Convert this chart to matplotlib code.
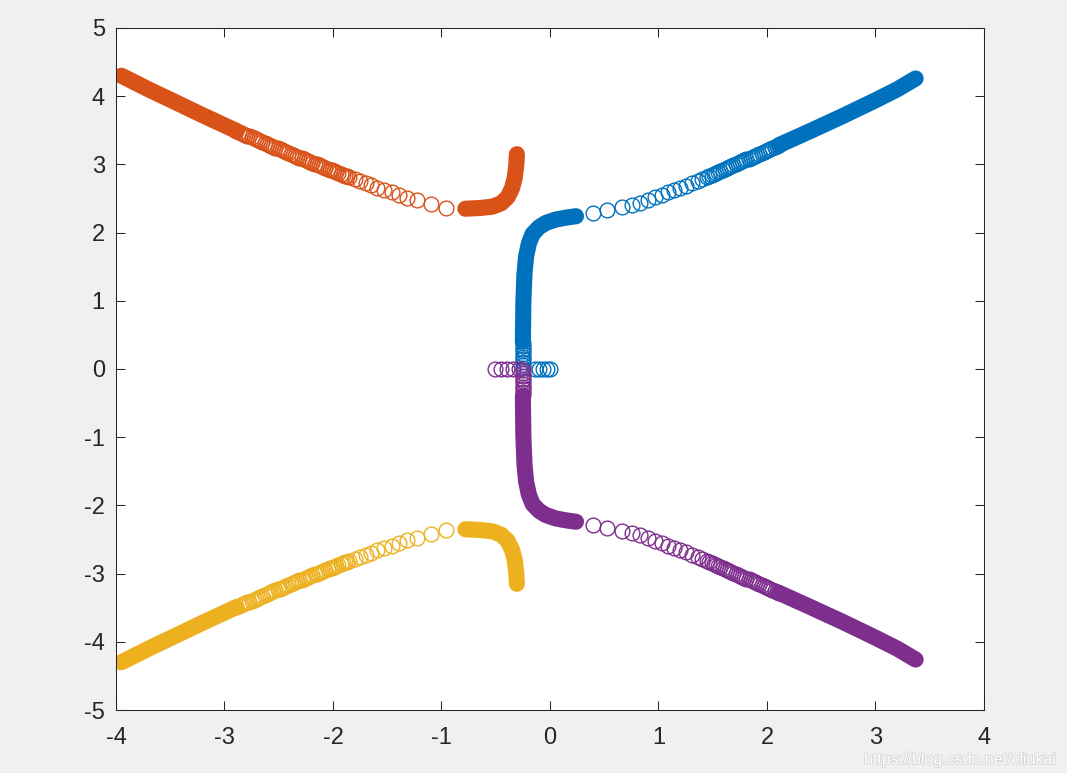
import matplotlib.pyplot as plt
import matplotlib.patheffects as pe

# 四个根轨迹分支 (颜色顺序同 MATLAB 默认)
blue_c = '#0072BD'
orange_c = '#D95319'
yellow_c = '#EDB120'
purple_c = '#7E2F8E'

# ---- 蓝色分支 ----
blue_axis_x = [0.0, -0.03, -0.065, -0.10, -0.135]
blue_axis_y = [0, 0, 0, 0, 0]
blue_split_x = [-0.25, -0.25, -0.25, -0.25, -0.25, -0.25, -0.25, -0.25, -0.25, -0.25]
blue_split_y = [0.02, 0.06, 0.10, 0.14, 0.18, 0.22, 0.26, 0.30, 0.34, 0.38]
blue_stem_x = [-0.25, -0.245, -0.235, -0.22, -0.195, -0.16, -0.10, -0.04, 0.05, 0.15, 0.24]
blue_stem_y = [0.40, 1.00, 1.40, 1.65, 1.84, 1.98, 2.08, 2.14, 2.19, 2.22, 2.24]
blue_tail_x = [0.40, 0.53, 0.66, 0.76, 0.83, 0.90, 0.97, 1.03, 1.09, 1.14, 1.20, 1.25,
               1.31, 1.36, 1.40, 1.45,
               1.47, 1.49, 1.51, 1.53, 1.55, 1.57, 1.59, 1.61, 1.63, 1.65, 1.67,
               1.69, 1.71, 1.73, 1.75, 1.77, 1.79, 1.81, 1.83, 1.85, 1.87, 1.89,
               1.91, 1.93, 1.95, 1.97, 1.99, 2.01, 2.03, 2.05, 2.07, 2.09, 2.11]
blue_tail_y = [2.29, 2.33, 2.37, 2.41, 2.44, 2.48, 2.52, 2.55, 2.59, 2.62, 2.66, 2.69,
               2.73, 2.76, 2.79, 2.82,
               2.834, 2.848, 2.862, 2.876, 2.890, 2.904, 2.918, 2.932, 2.946, 2.960, 2.974,
               2.988, 3.002, 3.016, 3.030, 3.044, 3.058, 3.072, 3.086, 3.100, 3.114, 3.128,
               3.142, 3.156, 3.170, 3.184, 3.198, 3.212, 3.226, 3.240, 3.254, 3.268, 3.282]
blue_far_x = [2.11, 2.40, 2.70, 3.00, 3.20, 3.37]
blue_far_y = [3.282, 3.49, 3.71, 3.94, 4.10, 4.26]

# ---- 橙色分支 ----
orange_hook_x = [-0.78, -0.65, -0.53, -0.45, -0.39, -0.35, -0.325, -0.31, -0.305]
orange_hook_y = [2.35, 2.36, 2.38, 2.43, 2.52, 2.65, 2.80, 3.00, 3.15]
orange_tail_x = [-0.96, -1.10, -1.23, -1.32, -1.39, -1.46, -1.53, -1.59, -1.65, -1.70, -1.75,
                 -1.80, -1.85,
                 -1.87, -1.89, -1.91, -1.93, -1.95, -1.97, -1.99, -2.01, -2.03, -2.05,
                 -2.07, -2.09, -2.11, -2.13, -2.15, -2.17, -2.19, -2.21, -2.23, -2.25,
                 -2.27, -2.29, -2.31, -2.33, -2.35, -2.37, -2.39, -2.41, -2.43, -2.45,
                 -2.47, -2.49, -2.51, -2.53, -2.55, -2.57, -2.59, -2.61, -2.63, -2.65,
                 -2.67, -2.69, -2.71, -2.73, -2.75, -2.77, -2.79, -2.81, -2.83, -2.85,
                 -2.87, -2.89]
orange_tail_y = [2.36, 2.42, 2.48, 2.51, 2.55, 2.59, 2.63, 2.66, 2.70, 2.73, 2.75,
                 2.78, 2.81,
                 2.823, 2.835, 2.848, 2.860, 2.873, 2.886, 2.898, 2.911, 2.923, 2.936,
                 2.949, 2.961, 2.974, 2.986, 2.999, 3.012, 3.024, 3.037, 3.049, 3.062,
                 3.075, 3.087, 3.097, 3.110, 3.124, 3.138, 3.151, 3.165, 3.178, 3.192,
                 3.206, 3.219, 3.233, 3.246, 3.260, 3.274, 3.287, 3.301, 3.314, 3.328,
                 3.342, 3.355, 3.369, 3.382, 3.396, 3.410, 3.423, 3.437, 3.450, 3.464,
                 3.478, 3.491]
orange_far_x = [-2.89, -3.20, -3.41, -3.70, -3.95]
orange_far_y = [3.491, 3.72, 3.88, 4.10, 4.30]

# ---- 黄色分支 (橙色的共轭) ----
yellow_hook_x = orange_hook_x
yellow_hook_y = [-2.35, -2.36, -2.38, -2.43, -2.52, -2.65, -2.80, -3.00, -3.15]
yellow_tail_x = orange_tail_x
yellow_tail_y = [-2.36, -2.42, -2.48, -2.51, -2.55, -2.59, -2.63, -2.66, -2.70, -2.73, -2.75,
                 -2.78, -2.81,
                 -2.823, -2.835, -2.848, -2.860, -2.873, -2.886, -2.898, -2.911, -2.923, -2.936,
                 -2.949, -2.961, -2.974, -2.986, -2.999, -3.012, -3.024, -3.037, -3.049, -3.062,
                 -3.075, -3.087, -3.097, -3.110, -3.124, -3.138, -3.151, -3.165, -3.178, -3.192,
                 -3.206, -3.219, -3.233, -3.246, -3.260, -3.274, -3.287, -3.301, -3.314, -3.328,
                 -3.342, -3.355, -3.369, -3.382, -3.396, -3.410, -3.423, -3.437, -3.450, -3.464,
                 -3.478, -3.491]
yellow_far_x = orange_far_x
yellow_far_y = [-3.491, -3.72, -3.88, -4.10, -4.30]

# ---- 紫色分支 (蓝色的共轭, 实轴部分不同) ----
purple_axis_x = [-0.51, -0.45, -0.40, -0.34, -0.29]
purple_axis_y = [0, 0, 0, 0, 0]
purple_split_x = blue_split_x
purple_split_y = [-0.02, -0.06, -0.10, -0.14, -0.18, -0.22, -0.26, -0.30, -0.34, -0.38]
purple_stem_x = blue_stem_x
purple_stem_y = [-0.40, -1.00, -1.40, -1.65, -1.84, -1.98, -2.08, -2.14, -2.19, -2.22, -2.24]
purple_tail_x = blue_tail_x
purple_tail_y = [-2.29, -2.33, -2.37, -2.41, -2.44, -2.48, -2.52, -2.55, -2.59, -2.62, -2.66, -2.69,
                 -2.73, -2.76, -2.79, -2.82,
                 -2.834, -2.848, -2.862, -2.876, -2.890, -2.904, -2.918, -2.932, -2.946, -2.960, -2.974,
                 -2.988, -3.002, -3.016, -3.030, -3.044, -3.058, -3.072, -3.086, -3.100, -3.114, -3.128,
                 -3.142, -3.156, -3.170, -3.184, -3.198, -3.212, -3.226, -3.240, -3.254, -3.268, -3.282]
purple_far_x = blue_far_x
purple_far_y = [-3.282, -3.49, -3.71, -3.94, -4.10, -4.26]

ticks = [-4, -3, -2, -1, 0, 1, 2, 3, 4]
yticks = [-5, -4, -3, -2, -1, 0, 1, 2, 3, 4, 5]

plt.rcParams['font.family'] = ['Liberation Sans', 'DejaVu Sans']
plt.rcParams['axes.unicode_minus'] = False

fig = plt.figure(figsize=(10.67, 7.73), dpi=100, facecolor='#f0f0f0')
ax = fig.add_axes([0.1087, 0.0815, 0.8135, 0.8823])

ms = 10.6
band = 11.6


def rings(x, y, c):
    ax.plot(x, y, 'o', ls='none', ms=ms, mfc='none', mec=c, mew=1.0)


def solid(x, y, c):
    # 圆圈非常密的地方画成粗线
    ax.plot(x, y, '-', color=c, lw=band, solid_capstyle='round', solid_joinstyle='round')


rings(blue_axis_x, blue_axis_y, blue_c)
rings(blue_split_x, blue_split_y, blue_c)
solid(blue_stem_x, blue_stem_y, blue_c)
rings(blue_tail_x, blue_tail_y, blue_c)
solid(blue_far_x, blue_far_y, blue_c)

solid(orange_hook_x, orange_hook_y, orange_c)
rings(orange_tail_x, orange_tail_y, orange_c)
solid(orange_far_x, orange_far_y, orange_c)

solid(yellow_hook_x, yellow_hook_y, yellow_c)
rings(yellow_tail_x, yellow_tail_y, yellow_c)
solid(yellow_far_x, yellow_far_y, yellow_c)

rings(purple_axis_x, purple_axis_y, purple_c)
rings(purple_split_x, purple_split_y, purple_c)
solid(purple_stem_x, purple_stem_y, purple_c)
rings(purple_tail_x, purple_tail_y, purple_c)
solid(purple_far_x, purple_far_y, purple_c)

ax.set_xlim(-4, 4)
ax.set_ylim(-5, 5)
ax.set_xticks(ticks)
ax.set_yticks(yticks)
ax.tick_params(direction='in', length=6.5, width=0.75, colors='#262626', labelsize=17,
               top=True, right=True)
ax.tick_params(axis='x', pad=12)
ax.tick_params(axis='y', pad=8)
for s in ax.spines.values():
    s.set_color('#262626')
    s.set_linewidth(0.75)

# 水印
fig.text(0.9905, 0.0175, 'https://blog.csdn.net/cliukai', ha='right', va='center',
         fontsize=11.5, color='white',
         path_effects=[pe.withStroke(linewidth=1.2, foreground='#d6d6d6')])

fig.savefig('out.png', dpi=100, facecolor=fig.get_facecolor())
